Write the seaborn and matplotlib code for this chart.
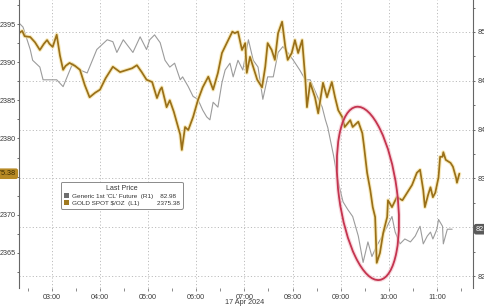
import matplotlib
matplotlib.use("Agg")
import matplotlib.pyplot as plt
import seaborn as sns
import pandas as pd
import numpy as np
from matplotlib.patches import Ellipse, Patch
from matplotlib.transforms import IdentityTransform, blended_transform_factory

# ---------------- data ----------------
gold_times = ["02:19","02:23","02:26","02:33","02:39","02:45","02:50","02:54","02:57","03:01",
              "03:06","03:10","03:14","03:17","03:22","03:29","03:35","03:41","03:47","03:54",
              "04:00","04:07","04:16","04:25","04:34","04:40","04:46","04:52","04:58","05:05",
              "05:11","05:15","05:17","05:21","05:23","05:27","05:32","05:36","05:40","05:42",
              "05:46","05:50","05:56","06:02","06:08","06:15","06:21","06:27","06:32","06:38",
              "06:45","06:48","06:52","06:57","07:01","07:03","07:07","07:16","07:22","07:26",
              "07:29","07:34","07:38","07:42","07:47","07:51","07:54","07:59","08:03","08:07",
              "08:12","08:16","08:18","08:22","08:28","08:32","08:38","08:43","08:49","08:53",
              "08:57","09:02","09:05","09:12","09:15","09:22","09:27","09:29","09:33","09:37",
              "09:40","09:43","09:45","09:49","09:53","09:58","09:59","10:04","10:10","10:17",
              "10:23","10:29","10:35","10:39","10:43","10:45","10:49","10:52","10:55","10:58",
              "11:02","11:04","11:07","11:08","11:11","11:17","11:20","11:24","11:25","11:28"]
gold_values = [2393.8,2394.1,2393.4,2393.3,2392.6,2391.6,2392.4,2392.9,2392.4,2392.0,
               2393.6,2390.9,2389.0,2389.5,2389.9,2389.5,2389.0,2387.0,2385.4,2386.0,
               2386.4,2387.9,2389.4,2388.7,2389.0,2389.2,2389.6,2388.7,2387.7,2387.4,
               2385.3,2386.4,2386.7,2385.0,2384.1,2385.0,2383.5,2382.0,2380.5,2378.5,
               2381.5,2381.1,2382.8,2385.0,2386.7,2388.1,2386.4,2388.6,2391.2,2392.5,
               2394.0,2393.8,2394.0,2391.6,2392.5,2388.6,2390.7,2387.7,2386.7,2389.4,
               2392.5,2391.6,2390.3,2393.8,2395.3,2392.0,2390.3,2391.2,2392.9,2391.2,
               2392.9,2387.7,2384.1,2387.3,2385.4,2383.3,2387.3,2385.4,2387.4,2385.4,
               2383.7,2382.8,2381.5,2382.4,2381.5,2382.2,2380.7,2379.1,2375.5,2373.2,
               2371.0,2369.7,2363.7,2365.0,2367.6,2369.7,2371.9,2371.0,2372.3,2371.9,
               2372.9,2373.9,2375.5,2375.9,2373.2,2371.0,2372.6,2373.6,2372.3,2372.9,
               2374.9,2377.6,2377.6,2378.2,2377.2,2376.8,2376.3,2374.8,2374.2,2375.38]

oil_times = ["02:18","02:24","02:33","02:36","02:45","02:49","02:57","03:06","03:14","03:19",
             "03:26","03:35","03:44","03:56","04:09","04:16","04:21","04:29","04:41","04:50",
             "04:58","05:02","05:08","05:15","05:21","05:27","05:33","05:40","05:43","05:50",
             "05:56","06:02","06:08","06:13","06:17","06:21","06:27","06:32","06:36","06:42",
             "06:46","06:52","06:58","07:05","07:11","07:17","07:23","07:29","07:36","07:42",
             "07:48","07:54","08:01","08:09","08:16","08:22","08:31","08:37","08:41","08:44",
             "08:51","08:57","09:03","09:09","09:15","09:22","09:28","09:34","09:39","09:45",
             "09:52","09:58","10:04","10:08","10:14","10:20","10:27","10:33","10:37","10:39",
             "10:43","10:48","10:52","10:55","11:00","11:02","11:07","11:08","11:13","11:19"]
oil_values = [85.10,85.05,84.82,84.71,84.64,84.51,84.51,84.51,84.44,84.54,
              84.68,84.61,84.58,84.82,84.92,84.90,84.79,84.92,84.79,84.95,
              84.82,84.92,84.97,84.89,84.71,84.64,84.68,84.51,84.54,84.44,
              84.34,84.31,84.20,84.13,84.10,84.28,84.23,84.48,84.61,84.68,
              84.54,84.71,84.61,84.92,84.71,84.64,84.31,84.54,84.54,84.79,
              84.85,84.79,84.71,84.61,84.51,84.51,84.34,84.23,84.10,84.02,
              83.74,83.46,83.26,83.18,83.11,82.91,82.64,82.85,82.70,82.81,
              82.91,83.01,83.11,82.95,82.83,82.88,82.85,82.91,82.98,83.01,
              82.83,82.91,82.95,82.88,82.98,83.08,83.01,82.83,82.98,82.98]

hour_labels = ["03:00","04:00","05:00","06:00","07:00","08:00","09:00","10:00","11:00"]
gold_ticks = [2365, 2370, 2375, 2380, 2385, 2390, 2395]
oil_ticks = [82.5, 83.0, 83.5, 84.0, 84.5, 85.0]
date_label = "17 Apr 2024"
legend_title = "Last Price"
oil_name = "Generic 1st 'CL' Future  (R1)"
gold_name = "GOLD SPOT $/OZ  (L1)"
oil_last = 82.98
gold_last = 2375.38
# highlighted sell-off region (centre time, centre gold level, width in hours, height in $)
hl_center = ("09:34", 2372.8)
hl_size = (1.21, 22.9)


def to_hours(s):
    h, m = s.split(":")
    return int(h) + int(m) / 60.0


gold_df = pd.DataFrame({"t": [to_hours(s) for s in gold_times], "v": gold_values})
oil_df = pd.DataFrame({"t": [to_hours(s) for s in oil_times], "v": oil_values})

# ---------------- figure ----------------
sns.set_theme(style="white")
plt.rcParams["font.family"] = ["Liberation Sans", "DejaVu Sans"]

W, H = 485, 306
fig = plt.figure(figsize=(W / 100, H / 100), dpi=100)
ax = fig.add_axes([19 / W, 1 - 288 / H, (473 - 19) / W, 288 / H])
ax2 = ax.twinx()

gold_c = "#9a7019"
glow_c = "#f6e3a4"
oil_c = "#9c9c9c"
tick_c = "#3a3a3a"
fs = 5.2

sns.lineplot(data=oil_df, x="t", y="v", ax=ax2, color=oil_c, lw=0.8, legend=False)
sns.lineplot(data=gold_df, x="t", y="v", ax=ax, color=glow_c, lw=2.8, alpha=0.75, legend=False)
sns.lineplot(data=gold_df, x="t", y="v", ax=ax, color=gold_c, lw=1.25, legend=False)

ax.set_zorder(ax2.get_zorder() + 1)
ax.patch.set_visible(False)
ax2.patch.set_facecolor("white")

ax.set_xlim(to_hours("02:19"), to_hours("11:45"))
ax.set_ylim(2360.4, 2398.15)
ax2.set_ylim(82.378, 85.327)

for a in (ax, ax2):
    a.set_xlabel("")
    a.set_ylabel("")
    for s in a.spines.values():
        s.set_visible(False)
ax.spines["left"].set_visible(True)
ax.spines["left"].set_color("#666666")
ax.spines["left"].set_linewidth(0.8)
ax2.spines["right"].set_visible(True)
ax2.spines["right"].set_color("#666666")
ax2.spines["right"].set_linewidth(0.8)

# x ticks
hx = [to_hours(s) for s in hour_labels]
ax.set_xticks(hx)
ax.set_xticklabels(hour_labels)
ax.set_xticks([h - 0.5 for h in hx] + [hx[-1] + 0.5], minor=True)
ax.tick_params(axis="x", which="both", bottom=True, length=2, width=0.6, color="#777777",
               labelsize=fs, labelcolor=tick_c, pad=2)

# left ticks (label under the last-price badge is hidden, as in the original)
ax.set_yticks(gold_ticks)
ax.set_yticklabels(["" if v == 2375 else str(v) for v in gold_ticks])
ax.set_yticks(np.arange(2362.5, 2398, 5), minor=True)
ax.tick_params(axis="y", which="both", left=True, length=1.6, width=0.6, color="#555555",
               labelsize=fs, labelcolor=tick_c, pad=1)

# right ticks
ax2.set_yticks(oil_ticks)
ax2.set_yticklabels(["" if v == 83.0 else f"{v:g}" for v in oil_ticks])
ax2.set_yticks(np.arange(82.75, 85.3, 0.5), minor=True)
ax2.tick_params(axis="y", which="both", right=True, length=1.6, width=0.6, color="#555555",
                labelsize=fs, labelcolor=tick_c, pad=1.5)

# grid
ax.grid(False)
ax2.grid(False)
for h in hx:
    ax2.axvline(h, color="#bdbdbd", lw=0.7, ls=(0, (1.2, 2.2)), zorder=0)
for v in oil_ticks:
    ax2.axhline(v, color="#bdbdbd", lw=0.7, ls=(0, (1.2, 2.2)), zorder=0)

# date label
tr = blended_transform_factory(ax.transData, ax.transAxes)
ax.text(to_hours("07:00"), -0.052, date_label, transform=tr, ha="center", va="center",
        fontsize=fs, color=tick_c)

# last-price badges
trl = blended_transform_factory(ax.transAxes, ax.transData)
ax.text(-0.006, gold_last, f"{gold_last:.2f}", transform=trl, ha="right", va="center",
        fontsize=fs, color="#3a2a00", zorder=10, clip_on=False,
        bbox=dict(boxstyle="round,pad=0.25,rounding_size=0.3", fc="#b78a25", ec="none"))
trr = blended_transform_factory(ax2.transAxes, ax2.transData)
ax2.text(1.006, oil_last, f"{oil_last:.2f}", transform=trr, ha="left", va="center",
         fontsize=fs, color="white", zorder=10, clip_on=False,
         bbox=dict(boxstyle="round,pad=0.25,rounding_size=0.3", fc="#5a5a5a", ec="none"))

# legend
handles = [Patch(facecolor="#6e6e6e", edgecolor="none"), Patch(facecolor="#a07a20", edgecolor="none")]
labels = [f"{oil_name}    {oil_last:.2f}", f"{gold_name}          {gold_last:.2f}"]
leg = ax.legend(handles, labels, title=legend_title, loc="upper left",
                bbox_to_anchor=(0.093, 0.368), fontsize=4.6, title_fontsize=5,
                frameon=True, fancybox=True, framealpha=1, edgecolor="#8a8a8a",
                handlelength=0.8, handleheight=0.8, handletextpad=0.4,
                borderpad=0.45, labelspacing=0.2, borderaxespad=0)
leg.get_frame().set_linewidth(0.7)
for t in leg.get_texts():
    t.set_color("#333333")
leg.get_title().set_color("#333333")
leg.set_zorder(20)

# highlight ellipse (built in pixel space so it can be tilted)
cx, cy = to_hours(hl_center[0]), hl_center[1]
p0 = ax.transData.transform((cx, cy))
pw = ax.transData.transform((cx + hl_size[0] / 2, cy))[0] - ax.transData.transform((cx - hl_size[0] / 2, cy))[0]
ph = ax.transData.transform((cx, cy + hl_size[1] / 2))[1] - ax.transData.transform((cx, cy - hl_size[1] / 2))[1]
for lw, col, al in [(3.0, "#f2b8c2", 0.55), (1.3, "#c4344f", 1.0)]:
    e = Ellipse(p0, pw, ph, angle=7.6, fill=False, lw=lw, ec=col, alpha=al,
                transform=IdentityTransform(), zorder=15)
    fig.add_artist(e)

fig.savefig("out.png", dpi=100, facecolor="white")
